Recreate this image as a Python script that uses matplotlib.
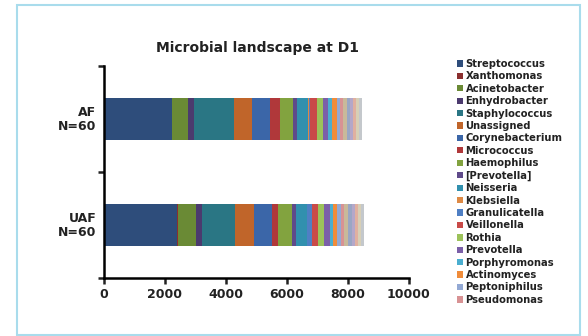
import matplotlib
matplotlib.use("Agg")
import matplotlib.pyplot as plt
from matplotlib.patches import Rectangle

# groups (top to bottom on the chart)
groups = ["AF\nN=60", "UAF\nN=60"]

# taxa shown in the legend, in stacking order
taxa = ["Streptococcus", "Xanthomonas", "Acinetobacter", "Enhydrobacter",
        "Staphylococcus", "Unassigned", "Corynebacterium", "Micrococcus",
        "Haemophilus", "[Prevotella]", "Neisseria", "Klebsiella",
        "Granulicatella", "Veillonella", "Rothia", "Prevotella",
        "Porphyromonas", "Actinomyces", "Peptoniphilus", "Pseudomonas"]
taxa_colors = ["#2e4d7b", "#8b2f2f", "#6a8a35", "#4b3a6e",
               "#2a7684", "#c0652a", "#3b66a8", "#b0383a",
               "#82a33f", "#5f4a8a", "#3190ae", "#de8a45",
               "#4f7fc4", "#c94a48", "#9cc25a", "#7b5fa8",
               "#4aaed0", "#f08c3a", "#93a9d4", "#d89294"]

af = [2225, 10, 505, 200, 1330, 580, 600, 330, 410, 130, 370, 25,
      40, 230, 195, 180, 110, 165, 115, 105]
uaf = [2405, 10, 590, 210, 1090, 605, 590, 225, 440, 140, 340, 30,
       140, 215, 200, 185, 90, 150, 120, 110]

# minor taxa at the end of the bars (not in the legend)
rest_colors = ["#c9b99a", "#9aa6c4", "#b4a7c9", "#e0b0a0", "#d7cfb6", "#c4c8cc"]
af_rest = [120, 100, 110, 95, 95, 85]
uaf_rest = [130, 110, 120, 100, 95, 90]

fig = plt.figure(figsize=(5.88, 3.36), dpi=100)
fig.patches.append(Rectangle((17/588, 1/336), 1 - 25/588, 1 - 6/336,
                             transform=fig.transFigure, fill=False,
                             edgecolor="#a9dcec", linewidth=1.5))

ax = fig.add_axes([104/588, 1 - 278/336, 304.8/588, 212/336])
ypos = [1, 0]
bar_h = 0.39

left = [0, 0]
for name, col, a, u in zip(taxa, taxa_colors, af, uaf):
    ax.barh(ypos, [a, u], left=left, height=bar_h, color=col, label=name,
            linewidth=0)
    left = [left[0] + a, left[1] + u]
for col, a, u in zip(rest_colors, af_rest, uaf_rest):
    ax.barh(ypos, [a, u], left=left, height=bar_h, color=col, linewidth=0)
    left = [left[0] + a, left[1] + u]

ax.set_xlim(0, 10000)
ax.set_ylim(-0.5, 1.5)
ax.set_xticks(range(0, 10001, 2000))
ax.set_yticks([-0.5, 0.5, 1.5])
ax.set_yticklabels([])
for y, g in zip(ypos, groups):
    ax.text(-0.025, y, g, transform=ax.get_yaxis_transform(), ha="right",
            va="center", fontsize=9, fontweight="bold", color="#222222",
            linespacing=1.1)
for s in ["top", "right"]:
    ax.spines[s].set_visible(False)
for s in ["left", "bottom"]:
    ax.spines[s].set_linewidth(1.8)
ax.tick_params(width=1.8, length=4, labelsize=9, colors="#222222")
for lbl in ax.get_xticklabels():
    lbl.set_fontweight("bold")

fig.text(257/588, 1 - 48/336, "Microbial landscape at D1", ha="center",
         va="center", fontsize=10, fontweight="bold", color="#222222")

handles, labels = ax.get_legend_handles_labels()
leg = fig.legend(handles, labels, loc="upper left",
                 bbox_to_anchor=(453/588, 1 - 55/336), frameon=False,
                 fontsize=7.2, handlelength=0.6, handleheight=0.6,
                 handletextpad=0.25, labelspacing=0.24, borderaxespad=0)
for t in leg.get_texts():
    t.set_fontweight("bold")
    t.set_color("#222222")

fig.savefig("out.png", dpi=100)
